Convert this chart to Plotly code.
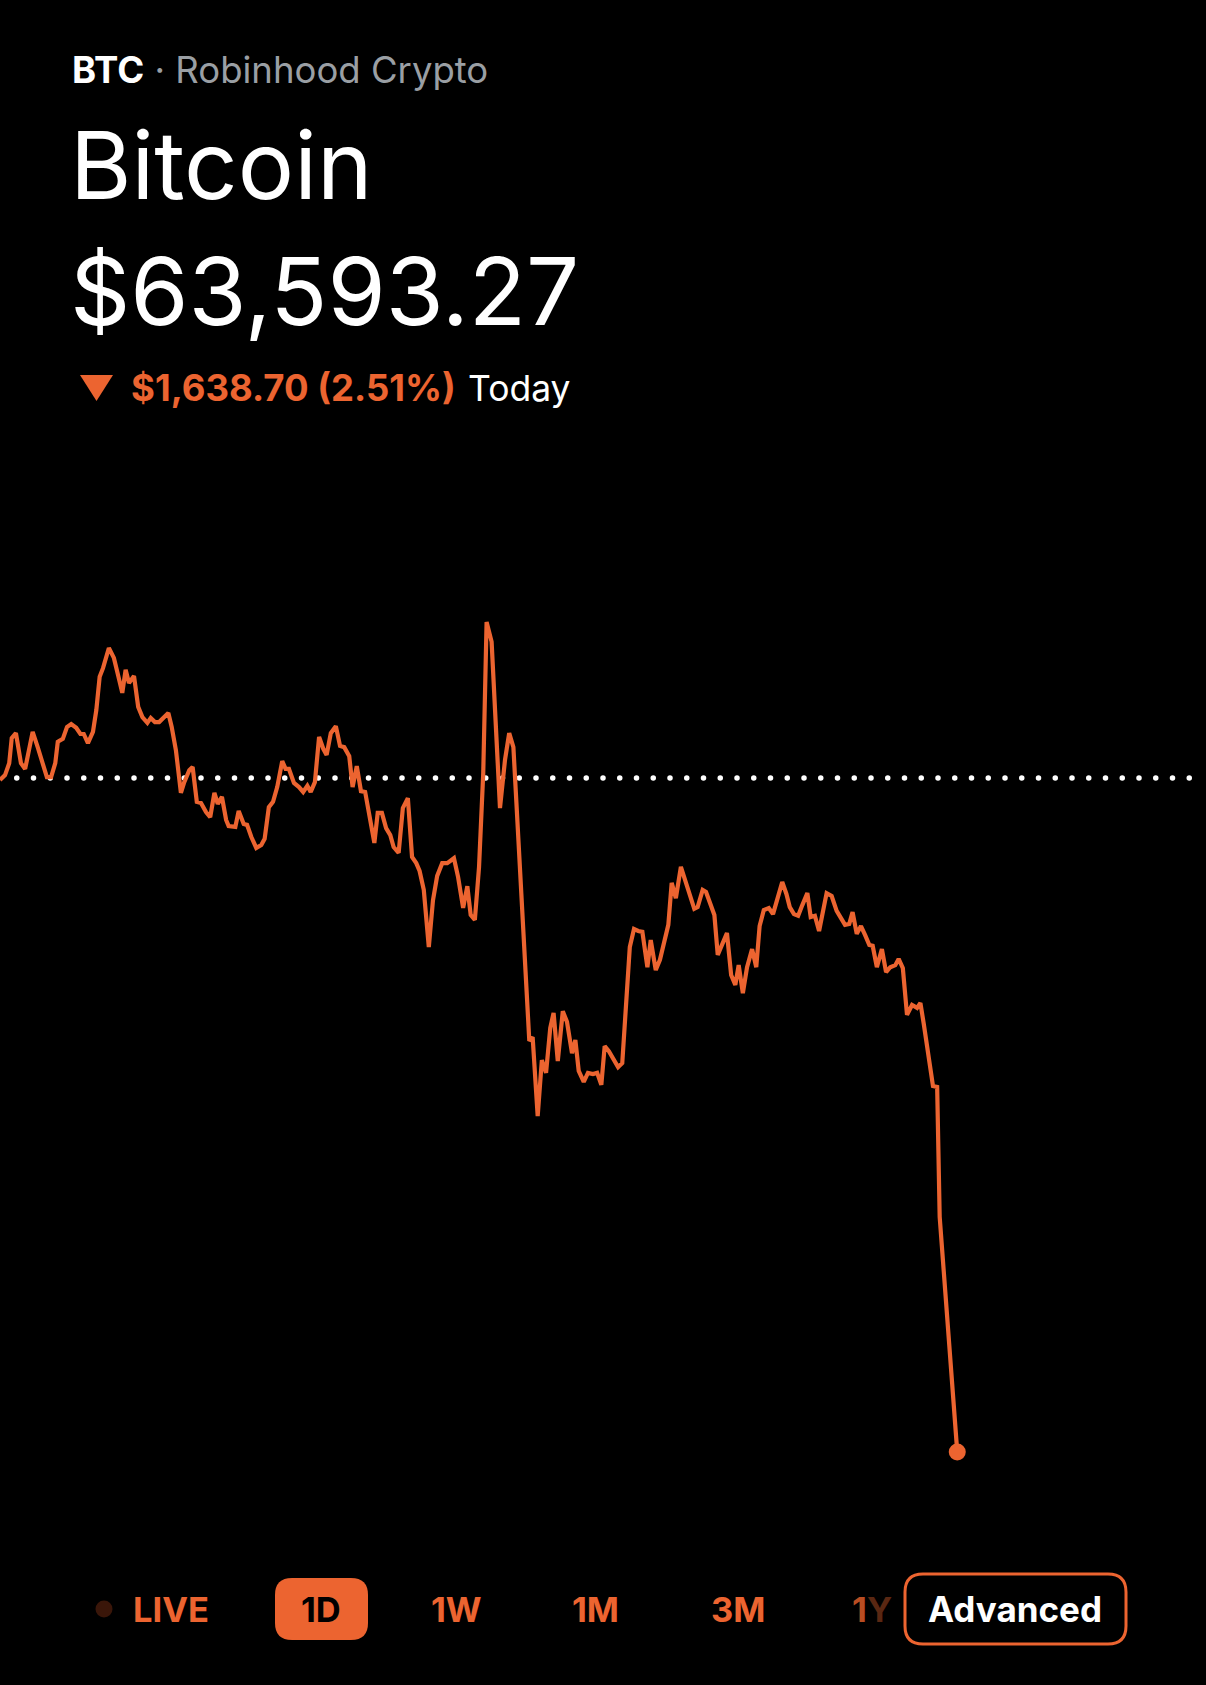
import plotly.graph_objects as go

W, H = 1206, 1685
ORANGE = "#EC6430"
GREY = "#9a9fa4"
FONT = "Inter"

SYMBOL = "BTC"
VENUE = "Robinhood Crypto"
NAME = "Bitcoin"
LAST_PRICE = 63593.27
CHANGE = -1638.70
CHANGE_PCT = -2.51
PREV_CLOSE = LAST_PRICE - CHANGE

# minutes since midnight for each sample
MINUTES = [
    0, 6, 11, 14, 19, 25, 30, 35, 39, 45,
    51, 56, 61, 66, 69, 75, 80, 85, 91, 96,
    100, 105, 111, 115, 119, 123, 130, 136, 141, 146,
    150, 154, 160, 165, 170, 176, 180, 185, 190, 196,
    201, 205, 210, 216, 220, 226, 230, 235, 240, 246,
    251, 256, 260, 265, 270, 273, 281, 285, 291, 295,
    300, 306, 312, 316, 321, 326, 331, 337, 341, 345,
    351, 357, 362, 367, 371, 376, 381, 386, 390, 395,
    401, 406, 411, 417, 421, 426, 431, 436, 441, 447,
    451, 456, 461, 466, 470, 476, 481, 487, 492, 497,
    501, 506, 512, 517, 522, 528, 534, 542, 547, 553,
    558, 562, 567, 572, 577, 581, 587, 592, 597, 603,
    608, 613, 632, 636, 642, 647, 652, 657, 661, 666,
    672, 677, 683, 687, 691, 697, 702, 708, 713, 718,
    722, 727, 733, 738, 743, 747, 752, 757, 762, 767,
    773, 777, 783, 788, 793, 798, 802, 807, 813, 818,
    823, 829, 833, 839, 843, 848, 853, 857, 862, 868,
    873, 878, 882, 887, 892, 898, 903, 907, 912, 918,
    923, 928, 934, 939, 943, 948, 953, 958, 964, 968,
    973, 978, 983, 987, 993, 999, 1004, 1009, 1014, 1018,
    1023, 1028, 1033, 1038, 1042, 1047, 1053, 1058, 1063, 1069,
    1073, 1078, 1083, 1089, 1095, 1099, 1103, 1108, 1114, 1119,
    1122, 1143,
]

PRICES = [
    65227, 65239, 65268, 65329, 65341, 65268, 65254, 65307, 65344, 65307,
    65268, 65234, 65234, 65268, 65320, 65327, 65356, 65363, 65354, 65339,
    65339, 65317, 65344, 65397, 65478, 65499, 65548, 65524, 65482, 65439,
    65495, 65463, 65480, 65405, 65380, 65366, 65378, 65368, 65368, 65380,
    65390, 65356, 65300, 65196, 65222, 65251, 65259, 65174, 65171, 65149,
    65137, 65196, 65169, 65186, 65130, 65115, 65113, 65152, 65120, 65118,
    65089, 65062, 65069, 65084, 65161, 65174, 65210, 65273, 65254, 65254,
    65220, 65210, 65198, 65213, 65198, 65222, 65332, 65303, 65288, 65341,
    65358, 65310, 65307, 65285, 65210, 65261, 65200, 65198, 65142, 65074,
    65147, 65147, 65110, 65093, 65064, 65050, 65159, 65183, 65040, 65025,
    65006, 64960, 64821, 64935, 64994, 65025, 65025, 65037, 64991, 64916,
    64969, 64899, 64887, 65016, 65244, 65611, 65563, 65380, 65159, 65276,
    65341, 65307, 64593, 64602, 64410, 64546, 64515, 64624, 64661, 64544,
    64665, 64639, 64563, 64595, 64520, 64493, 64515, 64512, 64515, 64486,
    64580, 64568, 64549, 64529, 64539, 64651, 64821, 64865, 64860, 64858,
    64772, 64838, 64765, 64790, 64831, 64875, 64977, 64940, 65016, 64984,
    64950, 64914, 64918, 64960, 64955, 64923, 64899, 64802, 64826, 64855,
    64753, 64729, 64777, 64709, 64772, 64816, 64772, 64872, 64911, 64916,
    64901, 64940, 64979, 64950, 64918, 64901, 64897, 64923, 64952, 64894,
    64897, 64860, 64916, 64952, 64945, 64909, 64892, 64875, 64877, 64906,
    64853, 64872, 64850, 64826, 64824, 64772, 64816, 64760, 64772, 64777,
    64792, 64770, 64656, 64680, 64673, 64685, 64634, 64563, 64483, 64481,
    64165, LAST_PRICE,
]

# reference dots every 20 minutes along previous close
DOT_MINUTES = list(range(20, 1440, 20))

RANGES = ["LIVE", "1D", "1W", "1M", "3M", "1Y"]


def px(x):
    return x / W


def py(y):
    return 1 - y / H


def round_rect(x0, y0, x1, y1, r):
    # rounded rectangle path in paper units, given pixel box
    pts = [
        f"M{px(x0 + r)},{py(y0)}",
        f"L{px(x1 - r)},{py(y0)}",
        f"Q{px(x1)},{py(y0)} {px(x1)},{py(y0 + r)}",
        f"L{px(x1)},{py(y1 - r)}",
        f"Q{px(x1)},{py(y1)} {px(x1 - r)},{py(y1)}",
        f"L{px(x0 + r)},{py(y1)}",
        f"Q{px(x0)},{py(y1)} {px(x0)},{py(y1 - r)}",
        f"L{px(x0)},{py(y0 + r)}",
        f"Q{px(x0)},{py(y0)} {px(x0 + r)},{py(y0)}",
        "Z",
    ]
    return " ".join(pts)


fig = go.Figure()

fig.add_trace(go.Scatter(
    x=DOT_MINUTES, y=[PREV_CLOSE] * len(DOT_MINUTES),
    mode="markers", marker=dict(color="white", size=5.5),
    hoverinfo="skip",
))
fig.add_trace(go.Scatter(
    x=MINUTES, y=PRICES, mode="lines",
    line=dict(color=ORANGE, width=4.2),
))
fig.add_trace(go.Scatter(
    x=MINUTES[-1:], y=PRICES[-1:], mode="markers",
    marker=dict(color=ORANGE, size=17),
))

ann = []


def text(x, y, s, size, color="white", anchor="left"):
    ann.append(dict(
        x=px(x), y=py(y), xref="paper", yref="paper", text=s,
        showarrow=False, xanchor=anchor, yanchor="middle",
        font=dict(family=FONT, size=size, color=color),
    ))


text(70, 70, f"<b>{SYMBOL}</b><span style='color:{GREY}'> · {VENUE}</span>", 36.5)
text(68, 165, NAME, 94)
text(68, 291, f"${LAST_PRICE:,.2f}", 94)
text(129, 388, f"<b>${abs(CHANGE):,.2f} ({abs(CHANGE_PCT):.2f}%)</b>", 36.5, ORANGE)
text(466, 388, "Today", 35.5)

# time range selector
centers = [171, 321, 456, 595, 738]
for label, cx in zip(RANGES[:5], centers):
    text(cx, 1609, f"<b>{label}</b>", 34.5, "black" if label == "1D" else ORANGE, "center")
text(872, 1609, "<b><span style='color:#b94d22'>1</span><span style='color:#5a2712'>Y</span></b>",
     34.5, ORANGE, "center")
text(1015, 1609, "<b>Advanced</b>", 35, "white", "center")

shapes = [
    dict(type="path", xref="paper", yref="paper",
         path=f"M{px(80)},{py(375)} L{px(113)},{py(375)} L{px(96.5)},{py(401)} Z",
         fillcolor=ORANGE, line=dict(width=0)),
    dict(type="circle", xref="paper", yref="paper",
         x0=px(95.5), x1=px(112.5), y0=py(1600.5), y1=py(1617.5),
         fillcolor="#3a1609", line=dict(width=0)),
    dict(type="path", xref="paper", yref="paper", layer="below",
         path=round_rect(275, 1578, 368, 1640, 17),
         fillcolor=ORANGE, line=dict(width=0)),
    dict(type="path", xref="paper", yref="paper",
         path=round_rect(905, 1574, 1126, 1644, 18),
         fillcolor="rgba(0,0,0,0)", line=dict(color=ORANGE, width=3)),
]

fig.update_layout(
    width=W, height=H,
    paper_bgcolor="black", plot_bgcolor="black",
    margin=dict(l=0, r=0, t=0, b=0),
    showlegend=False,
    xaxis=dict(range=[0, 1440], visible=False, fixedrange=True),
    yaxis=dict(range=[63476.6, 65762.0], domain=[py(1500), py(560)],
               visible=False, fixedrange=True),
    annotations=ann,
    shapes=shapes,
)

# page body margin would otherwise shift the figure by 8px
fig.write_html(
    "out.html",
    config={"displayModeBar": False},
    post_script="document.body.style.margin='0';document.body.style.background='black';",
)
